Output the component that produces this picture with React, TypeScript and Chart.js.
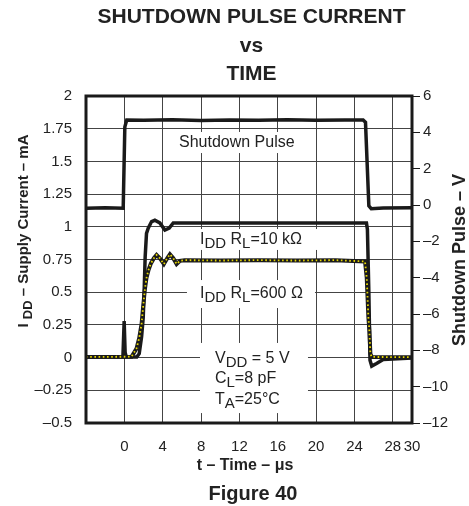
import React, { useEffect, useRef } from "react";
import { Chart, registerables } from "chart.js";

Chart.register(...registerables);

const FONT = '"Liberation Sans", Arial, Helvetica, sans-serif';
const INK = "#222";
const LINE = "#1a1a1a";

// tick values
const xTickValues = [0, 4, 8, 12, 16, 20, 24, 28, 30];
const leftTickValues = [-0.5, -0.25, 0, 0.25, 0.5, 0.75, 1, 1.25, 1.5, 1.75, 2];
const rightTickValues = [-12, -10, -8, -6, -4, -2, 0, 2, 4, 6];

// Shutdown pulse (V, right axis) vs time (µs)
const pulseTime = [-4, -2, -0.12, 0.05, 0.25, 2, 5, 8, 11, 14, 17, 20, 23, 24.9, 25.15, 25.5, 25.75, 27, 30];
const pulseVolts = [-0.18, -0.15, -0.18, 4.3, 4.68, 4.66, 4.69, 4.65, 4.68, 4.66, 4.69, 4.66, 4.68, 4.68, 4.55, -0.05, -0.2, -0.16, -0.15];

// IDD, RL = 10 kΩ (mA)
const time10k = [-4, -0.15, -0.02, 0.08, 0.2, 1.3, 1.55, 1.8, 1.97, 2.07, 2.17, 2.31, 2.49, 2.84, 3.18, 3.7, 4.23, 4.68, 5.1, 8, 12, 16, 20, 24, 25.25, 25.35, 25.5, 25.62, 25.8, 26.3, 27, 30];
const current10k = [0.005, 0.005, 0.28, 0.04, 0.005, 0.005, 0.03, 0.16, 0.31, 0.52, 0.77, 0.95, 0.99, 1.04, 1.05, 1.03, 0.975, 0.99, 1.03, 1.03, 1.03, 1.03, 1.03, 1.03, 1.03, 0.98, 0.5, -0.02, -0.065, -0.045, -0.015, -0.003];

// IDD, RL = 600 Ω (mA)
const time600 = [-4, 0.75, 1.27, 1.55, 1.8, 1.96, 2.14, 2.31, 2.52, 2.77, 3.08, 3.36, 3.7, 4.12, 4.47, 4.75, 5.1, 5.45, 5.8, 6.3, 10, 14, 18, 22, 25.1, 25.28, 25.45, 25.55, 25.66, 25.8, 30];
const current600 = [0.005, 0.007, 0.07, 0.15, 0.26, 0.39, 0.52, 0.61, 0.67, 0.72, 0.76, 0.785, 0.76, 0.715, 0.76, 0.79, 0.76, 0.715, 0.74, 0.745, 0.742, 0.745, 0.742, 0.745, 0.735, 0.61, 0.31, 0.21, 0.03, 0.005, 0.003];

type Seg = { t: string; sub?: boolean };

// Annotations placed in data units (t in µs, y in mA)
const notes: { lines: Seg[][]; t: number; base: number[]; box: number[] }[] = [
  { lines: [[{ t: "Shutdown Pulse" }]], t: 5.7, base: [1.61], box: [5.39, 18.4, 1.725, 1.564] },
  {
    lines: [[{ t: "I" }, { t: "DD", sub: true }, { t: " R" }, { t: "L", sub: true }, { t: "=10 kΩ" }]],
    t: 7.89, base: [0.872], box: [7.47, 20.2, 0.983, 0.823],
  },
  {
    lines: [[{ t: "I" }, { t: "DD", sub: true }, { t: " R" }, { t: "L", sub: true }, { t: "=600 Ω" }]],
    t: 7.89, base: [0.456], box: [6.53, 19.88, 0.593, 0.379],
  },
  {
    lines: [
      [{ t: "V" }, { t: "DD", sub: true }, { t: " = 5 V" }],
      [{ t: "C" }, { t: "L", sub: true }, { t: "=8 pF" }],
      [{ t: "T" }, { t: "A", sub: true }, { t: "=25°C" }],
    ],
    t: 9.45, base: [-0.039, -0.194, -0.355], box: [7.89, 19.15, 0.112, -0.424],
  },
];

const fmt = (v: number) => (v < 0 ? "–" + String(Math.abs(v)) : String(v));
const pts = (xs: number[], ys: number[]) => xs.map((x, i) => ({ x, y: ys[i] }));

function drawRich(ctx: CanvasRenderingContext2D, segs: Seg[], x: number, y: number, size: number, subSize: number, subDy: number, bold: boolean, measureOnly = false) {
  let cx = x;
  for (const s of segs) {
    ctx.font = `${bold ? "bold " : ""}${s.sub ? subSize : size}px ${FONT}`;
    if (!measureOnly) ctx.fillText(s.t, cx, y + (s.sub ? subDy : 0));
    cx += ctx.measureText(s.t).width;
  }
  return cx - x;
}

const decor = {
  id: "decor",
  beforeDatasetsDraw(chart: any) {
    const { ctx, scales } = chart;
    const x = scales.x, y = scales.y;
    ctx.save();
    ctx.textBaseline = "alphabetic";
    ctx.textAlign = "left";
    for (const n of notes) {
      const x1 = x.getPixelForValue(n.box[0]);
      const x2 = x.getPixelForValue(n.box[1]);
      const y1 = y.getPixelForValue(n.box[2]);
      const y2 = y.getPixelForValue(n.box[3]);
      ctx.fillStyle = "#fff";
      ctx.fillRect(x1, y1, x2 - x1, y2 - y1);
      ctx.fillStyle = INK;
      n.lines.forEach((segs, i) => {
        drawRich(ctx, segs, x.getPixelForValue(n.t), y.getPixelForValue(n.base[i]), 16, 15, 4, false);
      });
    }
    ctx.restore();
  },
  afterDatasetsDraw(chart: any) {
    const { ctx, chartArea: a } = chart;
    ctx.save();
    ctx.strokeStyle = LINE;
    ctx.lineWidth = 3;
    ctx.strokeRect(a.left, a.top, a.right - a.left, a.bottom - a.top);
    ctx.restore();
  },
  afterDraw(chart: any) {
    const { ctx } = chart;
    ctx.save();
    ctx.fillStyle = INK;
    ctx.textBaseline = "alphabetic";
    ctx.textAlign = "center";
    ctx.font = `bold 21px ${FONT}`;
    ctx.fillText("SHUTDOWN PULSE CURRENT", 251.5, 22.7);
    ctx.fillText("vs", 251.5, 52);
    ctx.fillText("TIME", 251.5, 80);
    ctx.font = `bold 16px ${FONT}`;
    ctx.fillText("t – Time – μs", 245, 470);
    ctx.font = `bold 20px ${FONT}`;
    ctx.fillText("Figure 40", 253, 500);

    ctx.textAlign = "left";
    // left axis title
    const leftSegs: Seg[] = [{ t: "I " }, { t: "DD", sub: true }, { t: " – Supply Current – mA" }];
    const wl = drawRich(ctx, leftSegs, 0, 0, 15, 13, 4, true, true);
    ctx.save();
    ctx.translate(28, 231 + wl / 2);
    ctx.rotate(-Math.PI / 2);
    drawRich(ctx, leftSegs, 0, 0, 15, 13, 4, true);
    ctx.restore();
    // right axis title
    const rightSegs: Seg[] = [{ t: "Shutdown Pulse – V" }];
    const wr = drawRich(ctx, rightSegs, 0, 0, 18, 18, 0, true, true);
    ctx.save();
    ctx.translate(465, 260 + wr / 2);
    ctx.rotate(-Math.PI / 2);
    drawRich(ctx, rightSegs, 0, 0, 18, 18, 0, true);
    ctx.restore();
    ctx.restore();
  },
};

export default function App() {
  const ref = useRef<HTMLCanvasElement | null>(null);
  useEffect(() => {
    document.body.style.margin = "0";
    const canvas = ref.current!;
    const tickFont = { size: 15, family: FONT };
    const chart = new Chart(canvas, {
      type: "scatter",
      data: {
        datasets: [
          {
            label: "IDD RL=600 Ω",
            data: pts(time600, current600),
            yAxisID: "y",
            showLine: true,
            borderColor: "#e8d800",
            borderWidth: 1.8,
            borderDash: [1.6, 2.6],
            pointRadius: 0,
            order: 0,
          },
          {
            label: "IDD RL=600 Ω outline",
            data: pts(time600, current600),
            yAxisID: "y",
            showLine: true,
            borderColor: LINE,
            borderWidth: 4,
            pointRadius: 0,
            order: 1,
          },
          {
            label: "IDD RL=10 kΩ",
            data: pts(time10k, current10k),
            yAxisID: "y",
            showLine: true,
            borderColor: LINE,
            borderWidth: 3.5,
            pointRadius: 0,
            order: 2,
          },
          {
            label: "Shutdown Pulse",
            data: pts(pulseTime, pulseVolts),
            yAxisID: "y2",
            showLine: true,
            borderColor: LINE,
            borderWidth: 3.5,
            pointRadius: 0,
            order: 3,
          },
        ],
      } as any,
      options: {
        responsive: false,
        animation: false,
        devicePixelRatio: 1,
        events: [],
        layout: { padding: { top: 96, left: 0, right: 0, bottom: 0 } },
        plugins: { legend: { display: false }, tooltip: { enabled: false }, title: { display: false } },
        scales: {
          x: {
            type: "linear",
            position: "bottom",
            min: -4,
            max: 30,
            afterBuildTicks: (s: any) => { s.ticks = xTickValues.map((v) => ({ value: v })); },
            afterFit: (s: any) => { s.height = 83; },
            grid: { color: "#444", lineWidth: 1, drawTicks: false },
            border: { display: false },
            ticks: { padding: 15, color: INK, font: tickFont, maxRotation: 0, autoSkip: false, callback: (v: any) => fmt(Number(v)) },
          },
          y: {
            type: "linear",
            position: "left",
            min: -0.5,
            max: 2,
            afterBuildTicks: (s: any) => { s.ticks = leftTickValues.map((v) => ({ value: v })); },
            afterFit: (s: any) => { s.width = 86; },
            grid: { color: "#444", lineWidth: 1, drawTicks: false },
            border: { display: false },
            ticks: { padding: 14, color: INK, font: tickFont, autoSkip: false, callback: (v: any) => fmt(Number(v)) },
          },
          y2: {
            type: "linear",
            position: "right",
            min: -12,
            max: 6,
            afterBuildTicks: (s: any) => { s.ticks = rightTickValues.map((v) => ({ value: v })); },
            afterFit: (s: any) => { s.width = 57; },
            grid: { drawOnChartArea: false, drawTicks: true, tickLength: 8, color: LINE, lineWidth: 1 },
            border: { display: false },
            ticks: { padding: 3, color: INK, font: tickFont, autoSkip: false, callback: (v: any) => fmt(Number(v)) },
          },
        },
      } as any,
      plugins: [decor],
    });
    return () => chart.destroy();
  }, []);
  return (
    <div style={{ width: 469, height: 506 }}>
      <canvas ref={ref} width={469} height={506} />
    </div>
  );
}
